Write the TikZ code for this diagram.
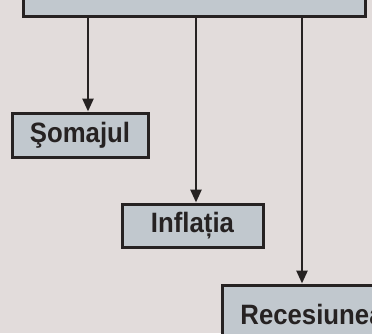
\documentclass[tikz,border=0pt]{standalone}
\usepackage{fontspec}
\setsansfont[FakeStretch=0.92]{Liberation Sans}
\usetikzlibrary{arrows.meta}
\definecolor{paper}{RGB}{226,220,219}
\definecolor{boxfill}{RGB}{193,200,206}
\definecolor{ink}{RGB}{38,34,34}
\begin{document}
\begin{tikzpicture}[x=1pt, y=-1pt, font=\sffamily\bfseries\fontsize{28}{30}\selectfont,
          >={Triangle[width=11pt,length=13pt]},
          box/.style={draw=ink, line width=3pt, fill=boxfill, text=ink, inner sep=0pt, align=center},
          link/.style={->, draw=ink, line width=2.6pt}]
        \fill[paper] (0,0) rectangle (372,333);
        \clip (0,0) rectangle (372,333);
        \node[box, minimum width=342, minimum height=52] (cauze) at (194,-10) {};
        \node[box, minimum width=136, minimum height=44] (somaj) at (80,135) {Şomajul};
        \node[box, minimum width=141, minimum height=43] (inflatie) at (192.5,225.5) {Inflația};
        \node[box, minimum width=180, minimum height=58] (recesiune) at (312,314) {Recesiunea};
        \draw[link] (cauze.south -| 88,0) -- (somaj.north -| 88,0);
        \draw[link] (cauze.south -| 196,0) -- (inflatie.north -| 196,0);
        \draw[link] (cauze.south -| 302,0) -- (recesiune.north -| 302,0);
      \end{tikzpicture}
\end{document}
